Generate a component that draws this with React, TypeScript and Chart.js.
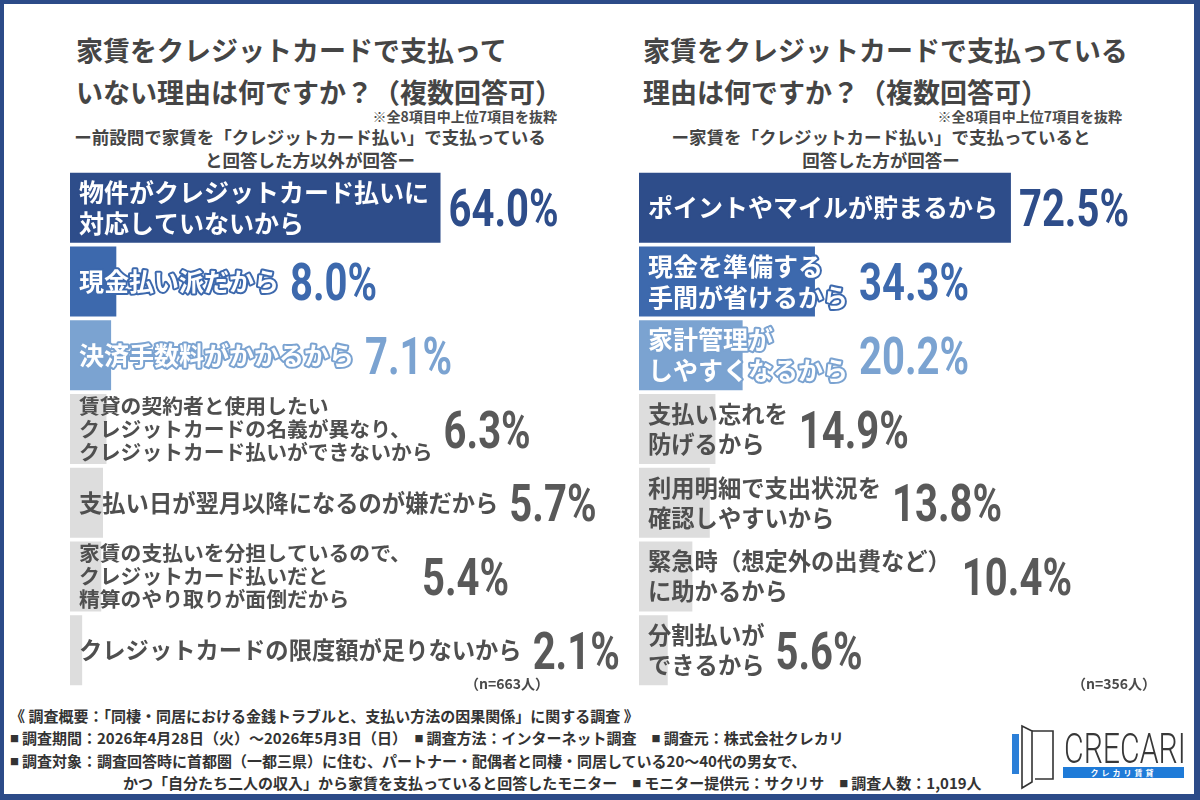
import React, { useEffect, useRef } from "react";
import { Chart, registerables } from "chart.js";

Chart.register(...registerables);

// ---- data ----
const leftCategories: string[][] = [
  ["物件がクレジットカード払いに", "対応していないから"],
  ["現金払い派だから"],
  ["決済手数料がかかるから"],
  ["賃貸の契約者と使用したい", "クレジットカードの名義が異なり、", "クレジットカード払いができないから"],
  ["支払い日が翌月以降になるのが嫌だから"],
  ["家賃の支払いを分担しているので、", "クレジットカード払いだと", "精算のやり取りが面倒だから"],
  ["クレジットカードの限度額が足りないから"],
];
const leftValues: number[] = [64.0, 8.0, 7.1, 6.3, 5.7, 5.4, 2.1];

const rightCategories: string[][] = [
  ["ポイントやマイルが貯まるから"],
  ["現金を準備する", "手間が省けるから"],
  ["家計管理が", "しやすくなるから"],
  ["支払い忘れを", "防げるから"],
  ["利用明細で支出状況を", "確認しやすいから"],
  ["緊急時（想定外の出費など）", "に助かるから"],
  ["分割払いが", "できるから"],
];
const rightValues: number[] = [72.5, 34.3, 20.2, 14.9, 13.8, 10.4, 5.6];

// ---- styles ----
const NAVY = "#2e4d8a";
const MID = "#3d69ad";
const LIGHT = "#7ba3d1";
const GREYBAR = "#dddddd";
const GREYTEXT = "#4f4f4f";
const barColors = [NAVY, MID, LIGHT, GREYBAR, GREYBAR, GREYBAR, GREYBAR];
const valueColors = [NAVY, MID, LIGHT, "#595959", "#595959", "#595959", "#595959"];
const JP = '"Noto Sans CJK JP", "Noto Sans", sans-serif';
const VAL_SCALE = 0.77;

// Draws the reason text over each bar and the percentage right after it
const barLabelPlugin = {
  id: "barLabels",
  afterDatasetsDraw(chart: any) {
    const ctx: CanvasRenderingContext2D = chart.ctx;
    const meta = chart.getDatasetMeta(0);
    const values = chart.data.datasets[0].data as number[];
    meta.data.forEach((bar: any, i: number) => {
      const lines = chart.data.labels[i] as string[];
      const { x, y, base } = bar.getProps(["x", "y", "base"], true);
      const n = lines.length;
      const highlighted = i < 3;
      const size = n === 3 ? 20.8 : highlighted ? 25 : 23.3;
      const lh = n === 3 ? 23 : highlighted ? 31 : 30;
      const tx = base + 9;
      ctx.save();
      ctx.font = `700 ${size}px ${JP}`;
      ctx.textBaseline = "middle";
      ctx.textAlign = "left";
      let textEnd = tx;
      lines.forEach((line, k) => {
        const ly = y + (k - (n - 1) / 2) * lh;
        textEnd = Math.max(textEnd, tx + ctx.measureText(line).width);
        if (highlighted) {
          ctx.lineJoin = "round";
          ctx.lineWidth = 4;
          ctx.strokeStyle = barColors[i];
          ctx.strokeText(line, tx, ly);
          ctx.fillStyle = "#ffffff";
          ctx.fillText(line, tx, ly);
        } else {
          ctx.fillStyle = GREYTEXT;
          ctx.fillText(line, tx, ly);
        }
      });
      ctx.restore();

      const valStr = values[i].toFixed(1) + "%";
      const vx = Math.max(x + 8, textEnd + 11);
      ctx.save();
      ctx.font = `700 52px Roboto`;
      ctx.textBaseline = "alphabetic";
      ctx.textAlign = "left";
      ctx.translate(vx, y + 18.5);
      ctx.scale(VAL_SCALE, 1);
      ctx.fillStyle = valueColors[i];
      ctx.fillText(valStr, 0, 0);
      ctx.restore();
    });
  },
};

function BarPanel(props: {
  categories: string[][];
  values: number[];
  max: number;
  left: number;
  top: number;
  width: number;
  height: number;
}) {
  const ref = useRef<HTMLCanvasElement>(null);
  useEffect(() => {
    if (!ref.current) return;
    const chart = new Chart(ref.current, {
      type: "bar",
      data: {
        labels: props.categories,
        datasets: [
          {
            data: props.values,
            backgroundColor: barColors,
            borderWidth: 0,
            barPercentage: 0.95,
            categoryPercentage: 1,
          },
        ],
      },
      options: {
        indexAxis: "y",
        animation: false,
        responsive: false,
        maintainAspectRatio: false,
        layout: { padding: 0 },
        plugins: { legend: { display: false }, tooltip: { enabled: false } },
        scales: {
          x: { display: false, min: 0, max: props.max },
          y: { display: false },
        },
      },
      plugins: [barLabelPlugin],
    } as any);
    return () => chart.destroy();
  }, []);
  return (
    <canvas
      ref={ref}
      width={props.width}
      height={props.height}
      style={{ position: "absolute", left: props.left, top: props.top, width: props.width, height: props.height }}
    />
  );
}

const abs = (s: React.CSSProperties): React.CSSProperties => ({ position: "absolute", whiteSpace: "nowrap", ...s });

const titleStyle: React.CSSProperties = {
  fontFamily: JP,
  fontWeight: 700,
  fontSize: 27,
  lineHeight: "42px",
  color: "#454545",
};
const noteStyle: React.CSSProperties = { fontFamily: JP, fontWeight: 700, fontSize: 14, color: "#4a4a4a", lineHeight: "20px" };
const subStyle: React.CSSProperties = { fontFamily: JP, fontWeight: 700, fontSize: 17.5, color: "#454545", lineHeight: "23px", textAlign: "center" };
const footStyle: React.CSSProperties = { fontFamily: JP, fontWeight: 700, fontSize: 15, color: "#333", lineHeight: "20px" };
const Sq = () => <span style={{ fontSize: 9, verticalAlign: "2px", marginRight: 3 }}>■</span>;

export default function App() {
  useEffect(() => {
    document.body.style.margin = "0";
  }, []);
  return (
    <div
      style={{
        position: "fixed",
        left: 0,
        top: 0,
        width: 1200,
        height: 800,
        boxSizing: "border-box",
        background: "#ffffff",
        borderStyle: "solid",
        borderColor: "#2c4b88",
        borderWidth: "4px 6px 6px 4px",
        overflow: "hidden",
      }}
    >
      <div style={{ position: "absolute", left: -4, top: -4, width: 1200, height: 800 }}>
        {/* left panel headings */}
        <div style={abs({ ...titleStyle, left: 76, top: 29 })}>
          家賃をクレジットカードで支払って
          <br />
          いない理由は何ですか？（複数回答可）
        </div>
        <div style={abs({ ...noteStyle, right: 1200 - 557, top: 106 })}>※全8項目中上位7項目を抜粋</div>
        <div style={abs({ ...subStyle, left: 60, width: 500, top: 125 })}>
          ー前設問で家賃を「クレジットカード払い」で支払っている
          <br />
          と回答した方以外が回答ー
        </div>

        {/* right panel headings */}
        <div style={abs({ ...titleStyle, left: 643, top: 29 })}>
          家賃をクレジットカードで支払っている
          <br />
          理由は何ですか？（複数回答可）
        </div>
        <div style={abs({ ...noteStyle, right: 1200 - 1122, top: 106 })}>※全8項目中上位7項目を抜粋</div>
        <div style={abs({ ...subStyle, left: 631, width: 500, top: 125 })}>
          ー家賃を「クレジットカード払い」で支払っていると
          <br />
          回答した方が回答ー
        </div>

        <BarPanel categories={leftCategories} values={leftValues} max={95} left={70} top={171} width={550} height={516} />
        <BarPanel categories={rightCategories} values={rightValues} max={100} left={639} top={171} width={513} height={516} />

        <div style={abs({ ...noteStyle, left: 465, top: 673 })}>（n=663人）</div>
        <div style={abs({ ...noteStyle, left: 1072, top: 673 })}>（n=356人）</div>

        {/* survey outline */}
        <div style={abs({ ...footStyle, left: 10, top: 706 })}>
          《 調査概要：「同棲・同居における金銭トラブルと、支払い方法の因果関係」に関する調査 》
        </div>
        <div style={abs({ ...footStyle, left: 10, top: 728 })}>
          <Sq />調査期間：2026年4月28日（火）～2026年5月3日（日）　<Sq />調査方法：インターネット調査　<Sq />調査元：株式会社クレカリ
        </div>
        <div style={abs({ ...footStyle, left: 10, top: 751 })}>
          <Sq />調査対象：調査回答時に首都圏（一都三県）に住む、パートナー・配偶者と同棲・同居している20～40代の男女で、
        </div>
        <div style={abs({ ...footStyle, left: 123, top: 773 })}>
          かつ「自分たち二人の収入」から家賃を支払っていると回答したモニター　<Sq />モニター提供元：サクリサ　<Sq />調査人数：1,019人
        </div>

        {/* logo */}
        <svg width={60} height={70} style={{ position: "absolute", left: 1005, top: 722 }}>
          <rect x={7} y={12} width={7} height={40} fill="#2b7fd8" />
          <polyline points="27,9 48,9 48,57 30,57" fill="none" stroke="#333" strokeWidth={1.6} />
          <polygon points="17,4 27,9 27,60 17,66" fill="none" stroke="#333" strokeWidth={1.6} />
        </svg>
        <div
          style={abs({
            left: 1064,
            top: 727,
            fontFamily: "Roboto, sans-serif",
            fontWeight: 300,
            fontSize: 42,
            lineHeight: "44px",
            color: "#383838",
            transform: "scaleX(0.72)",
            transformOrigin: "left top",
          })}
        >
          CRECARI
        </div>
        <div
          style={abs({
            left: 1063,
            top: 767,
            width: 121,
            height: 11,
            background: "#1f7bd8",
            color: "#fff",
            fontFamily: JP,
            fontWeight: 700,
            fontSize: 8,
            lineHeight: "11px",
            letterSpacing: 3,
            textAlign: "center",
          })}
        >
          クレカリ賃貸
        </div>
      </div>
    </div>
  );
}
